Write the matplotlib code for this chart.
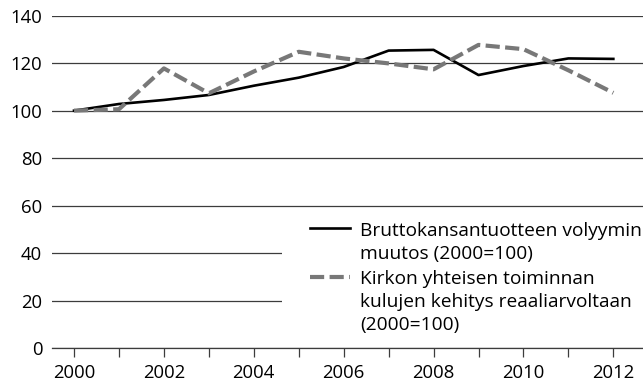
import matplotlib
matplotlib.use("Agg")
import matplotlib.pyplot as plt
from matplotlib.patches import Rectangle

plt.rcParams["font.family"] = ["Open Sans", "DejaVu Sans"]

years = list(range(2000, 2013))
gdp_volume = [100, 102.8, 104.5, 106.6, 110.5, 113.9, 118.4, 125.3, 125.6, 115.0, 118.8, 122.0, 121.8]
church_costs = [100, 100.6, 117.8, 107.3, 116.5, 124.8, 122.0, 119.9, 117.4, 127.7, 125.9, 117.0, 107.5]

gdp_label = "Bruttokansantuotteen volyymin\nmuutos (2000=100)"
church_label = "Kirkon yhteisen toiminnan\nkulujen kehitys reaaliarvoltaan\n(2000=100)"

grid_col = "#3c3c3c"

fig = plt.figure(figsize=(6.43, 3.88), dpi=100)
ax = fig.add_axes([52 / 643, 40 / 388, 591 / 643, 332.3 / 388])

ax.plot(years, gdp_volume, color="black", lw=1.9, label=gdp_label, zorder=3)
ax.plot(years, church_costs, color="#787878", lw=3.0, dashes=(3.4, 1.3),
        label=church_label, zorder=3)

ax.set_xlim(1999.51, 2012.66)
ax.set_ylim(0, 140)
ax.set_yticks(range(0, 141, 20))
ax.set_xticks(years)
ax.set_xticklabels([str(y) if y % 2 == 0 else "" for y in years])

ax.grid(axis="y", color=grid_col, lw=0.9)
ax.set_axisbelow(True)
for side in ["top", "right", "left"]:
    ax.spines[side].set_visible(False)
ax.spines["bottom"].set_color(grid_col)
ax.spines["bottom"].set_linewidth(0.9)

ax.tick_params(axis="x", direction="out", length=6.5, width=0.9, color=grid_col,
               labelsize=13.3, pad=5)
ax.tick_params(axis="y", length=0, labelsize=13.3, pad=7)

# white panel behind the legend hides the lower gridlines
ax.add_patch(Rectangle((0.389, 0.024), 0.611, 0.386, transform=ax.transAxes,
                       facecolor="white", edgecolor="none", zorder=1.5))

leg = ax.legend(loc="upper left", bbox_to_anchor=(0.4365, 0.38), fontsize=13.8,
                frameon=False, handlelength=2.08, handletextpad=0.52,
                labelspacing=0.38, borderpad=0, borderaxespad=0)
for t in leg.get_texts():
    t.set_linespacing(1.36)
# put each legend handle level with the first line of its label
for col in leg._legend_handle_box.get_children():
    for row in col.get_children():
        row.align = "top"

fig.savefig("out.png", dpi=100)
